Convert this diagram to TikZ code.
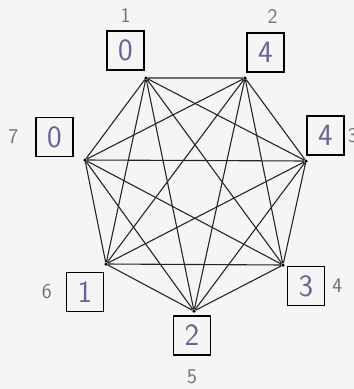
\documentclass[tikz,border=0pt]{standalone}
\usepackage{xcolor}
\usepackage{tikz}
\usetikzlibrary{positioning}

\begin{document}
\begin{tikzpicture}[x=1pt,y=-1pt,font=\sffamily,
  edge/.style={draw=black!85,line width=1.1pt},
  vbox/.style={draw,line width=1.2pt,minimum width=37pt,minimum height=39pt,
    inner sep=0pt,text=blue!30!black!60,font=\sffamily\fontsize{31}{33}\selectfont},
  vlab/.style={inner sep=0pt,text=black!55,font=\sffamily\fontsize{21}{23}\selectfont},
  vdot/.style={circle,fill=black,inner sep=0pt,minimum size=3.5pt}]
\useasboundingbox[fill=black!4] (0,0) rectangle (354,389);
% the seven vertices of the heptagon
\node[vdot] (v1) at (146,78) {};
\node[vdot] (v2) at (245,78) {};
\node[vdot] (v3) at (306,161) {};
\node[vdot] (v4) at (283,265) {};
\node[vdot] (v5) at (194,311) {};
\node[vdot] (v6) at (106,264) {};
\node[vdot] (v7) at (85,160) {};
% every pair joined
\draw[edge] (v1)--(v2) (v1)--(v3) (v1)--(v4) (v1)--(v5) (v1)--(v6) (v1)--(v7);
\draw[edge] (v2)--(v3) (v2)--(v4) (v2)--(v5) (v2)--(v6) (v2)--(v7);
\draw[edge] (v3)--(v4) (v3)--(v5) (v3)--(v6) (v3)--(v7);
\draw[edge] (v4)--(v5) (v4)--(v6) (v4)--(v7);
\draw[edge] (v5)--(v6) (v5)--(v7);
\draw[edge] (v6)--(v7);
% value boxes
\node[vbox] (b1) at (125.5,50.5) {0};
\node[vbox] (b2) at (265.5,52.5) {4};
\node[vbox] (b3) at (325.5,135.5) {4};
\node[vbox] (b4) at (306,286) {3};
\node[vbox] (b5) at (192,335.5) {2};
\node[vbox] (b6) at (85,292) {1};
\node[vbox] (b7) at (54.5,137) {0};
% vertex numbers
\node[vlab,above=8pt of b1] (l1) {1};
\node[vlab,above=9pt of b2,xshift=7pt] (l2) {2};
\node[vlab,right=3pt of b3] (l3) {3};
\node[vlab,right=7pt of b4] (l4) {4};
\node[vlab,below=14pt of b5] (l5) {5};
\node[vlab,left=14pt of b6] (l6) {6};
\node[vlab,left=17pt of b7] (l7) {7};
\end{tikzpicture}
\end{document}
